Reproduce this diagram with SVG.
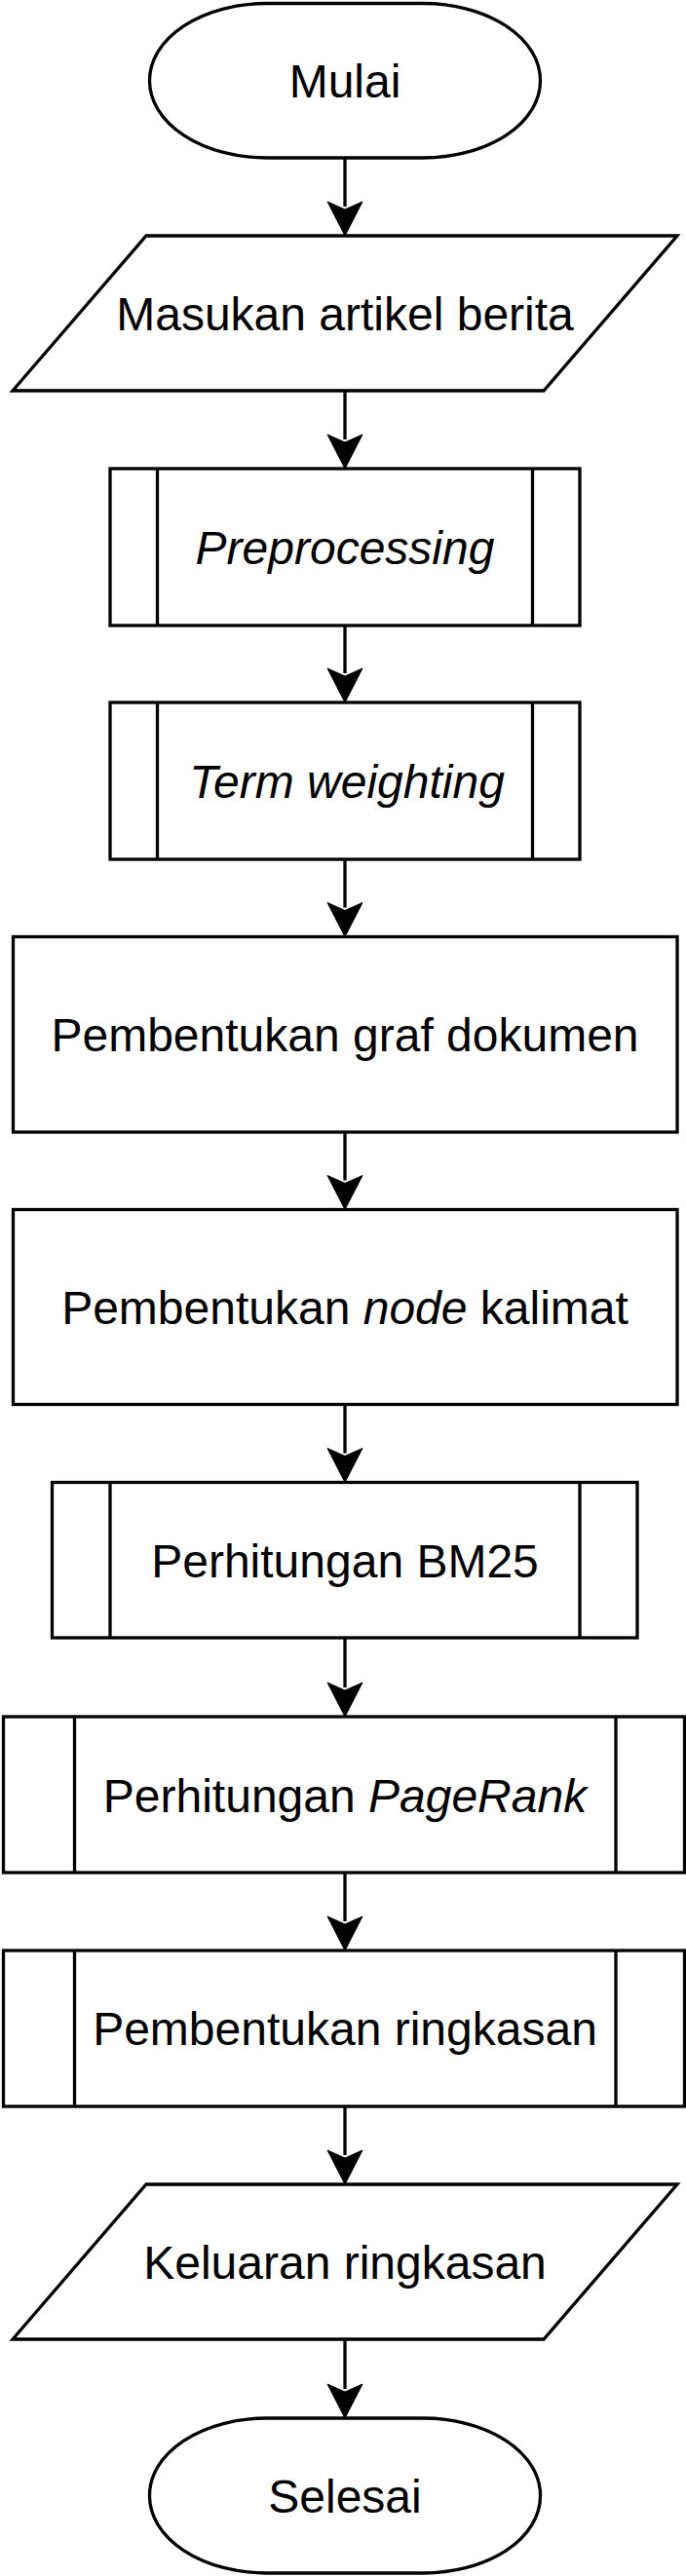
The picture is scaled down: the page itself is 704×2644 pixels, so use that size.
<svg xmlns="http://www.w3.org/2000/svg" width="704" height="2644" viewBox="0 0 704 2644">
<style>
.s{fill:#fff;stroke:#000;stroke-width:3.3}
.l{fill:none;stroke:#000;stroke-width:3.3}
.t{font-family:"Liberation Sans",Arial,Helvetica,sans-serif;font-size:48px;fill:#000;text-anchor:middle}
.i{font-style:italic}
.c{fill:none;stroke:#000;stroke-width:3.3}
</style>
<defs>
<marker id="ah" markerUnits="userSpaceOnUse" markerWidth="40" markerHeight="40" refX="0" refY="0" orient="auto" overflow="visible">
<path d="M-5,-18 L30,0 L-5,18 L3,0 Z" fill="#000" stroke="#000" stroke-width="1"/>
</marker>
</defs>
<rect width="704" height="2644" fill="#fff"/>
<g id="connectors">
<path class="c" d="M354,162 V212" marker-end="url(#ah)"/>
<path class="c" d="M354,401 V451" marker-end="url(#ah)"/>
<path class="c" d="M354,642 V691" marker-end="url(#ah)"/>
<path class="c" d="M354,882 V931.5" marker-end="url(#ah)"/>
<path class="c" d="M354,1162 V1211.5" marker-end="url(#ah)"/>
<path class="c" d="M354,1441.5 V1491.5" marker-end="url(#ah)"/>
<path class="c" d="M354,1681 V1732" marker-end="url(#ah)"/>
<path class="c" d="M354,1922 V1972" marker-end="url(#ah)"/>
<path class="c" d="M354,2162 V2212" marker-end="url(#ah)"/>
<path class="c" d="M354,2401 V2452" marker-end="url(#ah)"/>
</g>
<g id="mulai">
<rect class="s" x="153.5" y="3.5" width="401" height="158.5" rx="120" ry="79"/>
<text class="t" x="354" y="100">Mulai</text>
</g>
<g id="masukan">
<polygon class="s" points="150,242 695,242 558,401 13,401"/>
<text class="t" x="354" y="339">Masukan artikel berita</text>
</g>
<g id="preprocessing">
<rect class="s" x="113" y="481" width="482" height="161"/>
<path class="l" d="M161.5,481 V642 M546.5,481 V642"/>
<text class="t i" x="354" y="579">Preprocessing</text>
</g>
<g id="termweighting">
<rect class="s" x="113" y="721" width="482" height="161"/>
<path class="l" d="M161.5,721 V882 M546.5,721 V882"/>
<text class="t i" x="356" y="819">Term weighting</text>
</g>
<g id="graf">
<rect class="s" x="13.5" y="961.5" width="681.5" height="200.5"/>
<text class="t" x="354" y="1079">Pembentukan graf dokumen</text>
</g>
<g id="node">
<rect class="s" x="13.5" y="1241.5" width="681.5" height="200"/>
<text class="t" x="354" y="1359">Pembentukan <tspan class="i">node</tspan> kalimat</text>
</g>
<g id="bm25">
<rect class="s" x="53.5" y="1521.5" width="600.5" height="159.5"/>
<path class="l" d="M113,1521.5 V1681 M595,1521.5 V1681"/>
<text class="t" x="354" y="1619">Perhitungan BM25</text>
</g>
<g id="pagerank">
<rect class="s" x="3.5" y="1762" width="699" height="160"/>
<path class="l" d="M76.5,1762 V1922 M632,1762 V1922"/>
<text class="t" x="354" y="1860">Perhitungan <tspan class="i">PageRank</tspan></text>
</g>
<g id="ringkasan">
<rect class="s" x="3.5" y="2002" width="699" height="160"/>
<path class="l" d="M76.5,2002 V2162 M632,2002 V2162"/>
<text class="t" x="354" y="2099">Pembentukan ringkasan</text>
</g>
<g id="keluaran">
<polygon class="s" points="150,2242 695,2242 558,2401 13,2401"/>
<text class="t" x="354" y="2339">Keluaran ringkasan</text>
</g>
<g id="selesai">
<rect class="s" x="153.5" y="2482" width="401" height="159" rx="120" ry="79"/>
<text class="t" x="354" y="2579">Selesai</text>
</g>
</svg>
